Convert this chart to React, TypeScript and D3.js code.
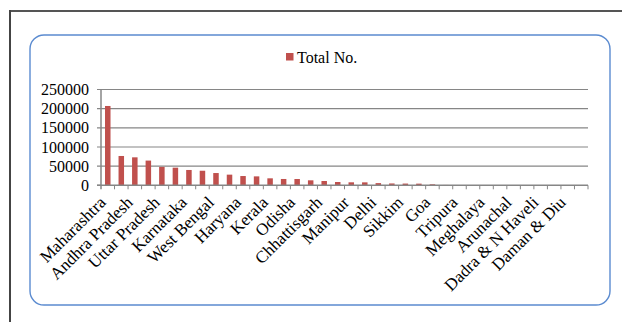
import React from "react";
import * as d3 from "d3";

const categories: string[] = [
  "Maharashtra", "Tamil Nadu", "Andhra Pradesh", "Gujarat", "Uttar Pradesh", "Rajasthan",
  "Karnataka", "Madhya Pradesh", "West Bengal", "Punjab", "Haryana", "Telangana",
  "Kerala", "Bihar", "Odisha", "Jharkhand", "Chhattisgarh", "Uttarakhand",
  "Manipur", "Himachal Pradesh", "Delhi", "Assam", "Sikkim", "Jammu & Kashmir",
  "Goa", "Puducherry", "Tripura", "Chandigarh", "Meghalaya", "Nagaland",
  "Arunachal", "Mizoram", "Dadra & N Haveli", "A & N Islands", "Daman & Diu", "Lakshadweep",
];

const totalNo: number[] = [
  207000, 76500, 73000, 64500, 48000, 46000,
  40000, 38000, 32000, 27800, 24200, 23300,
  18200, 16500, 16400, 13000, 11200, 8600,
  7800, 7700, 5700, 4800, 4500, 4300,
  2600, 900, 700, 600, 500, 400,
  350, 300, 250, 200, 150, 100,
];

const yTicks: number[] = [0, 50000, 100000, 150000, 200000, 250000];
const seriesName = "Total No.";

const W = 622;
const H = 322;
const FONT = "'Liberation Serif', 'Times New Roman', serif";

export default function App() {
  const left = 101;
  const right = 588;
  const top = 89.5;
  const bottom = 185.3;

  const xb = d3.scaleBand<string>().domain(categories).range([left, right]).padding(0);
  const y = d3.scaleLinear().domain([0, 250000]).range([bottom, top]);
  const step = xb.step();
  const cx = (c: string) => (xb(c) as number) + step / 2;

  return (
    <svg width={W} height={H} style={{ position: "absolute", left: 0, top: 0, background: "#fff" }}>
      {/* outer frame */}
      <line x1={10} y1={11} x2={W} y2={11} stroke="#555" strokeWidth={2} />
      <line x1={10} y1={10} x2={10} y2={H} stroke="#444" strokeWidth={2} />
      {/* chart area box */}
      <rect x={30} y={35} width={580} height={270} rx={14} ry={14} fill="#fff" stroke="#5b8bd0" strokeWidth={1.4} />

      {/* legend */}
      <rect x={286} y={53} width={7.5} height={7.5} fill="#C0504D" />
      <text x={297} y={62.5} fontFamily={FONT} fontSize={16} fill="#000">{seriesName}</text>

      {/* gridlines & y labels */}
      {yTicks.map((t) => (
        <g key={t}>
          <line x1={left - 4} x2={t > 0 ? right : left} y1={y(t)} y2={y(t)} stroke="#868686" strokeWidth={1.2} />
          <text x={89} y={y(t)} dy="0.35em" textAnchor="end" fontFamily={FONT} fontSize={16} fill="#000">
            {t}
          </text>
        </g>
      ))}

      {/* bars */}
      {categories.map((c, i) => (
        <rect
          key={c}
          x={cx(c) - 2.75}
          width={5.5}
          y={y(totalNo[i])}
          height={bottom - y(totalNo[i])}
          fill="#C0504D"
        />
      ))}

      {/* axes */}
      <line x1={left} x2={left} y1={top} y2={bottom + 4} stroke="#868686" strokeWidth={1.5} />
      <line x1={left - 4} x2={right} y1={bottom} y2={bottom} stroke="#868686" strokeWidth={1.5} />
      {categories.map((c) => (
        <line
          key={"t" + c}
          x1={(xb(c) as number) + step}
          x2={(xb(c) as number) + step}
          y1={bottom}
          y2={bottom + 4}
          stroke="#868686"
          strokeWidth={1}
        />
      ))}

      {/* category labels, every second */}
      {categories.map((c, i) =>
        i % 2 === 0 ? (
          <text
            key={"l" + c}
            transform={`translate(${cx(c) - 1},${203.5}) rotate(-45)`}
            textAnchor="end"
            fontFamily={FONT}
            fontSize={17}
            fill="#000"
          >
            {c}
          </text>
        ) : null
      )}
    </svg>
  );
}
